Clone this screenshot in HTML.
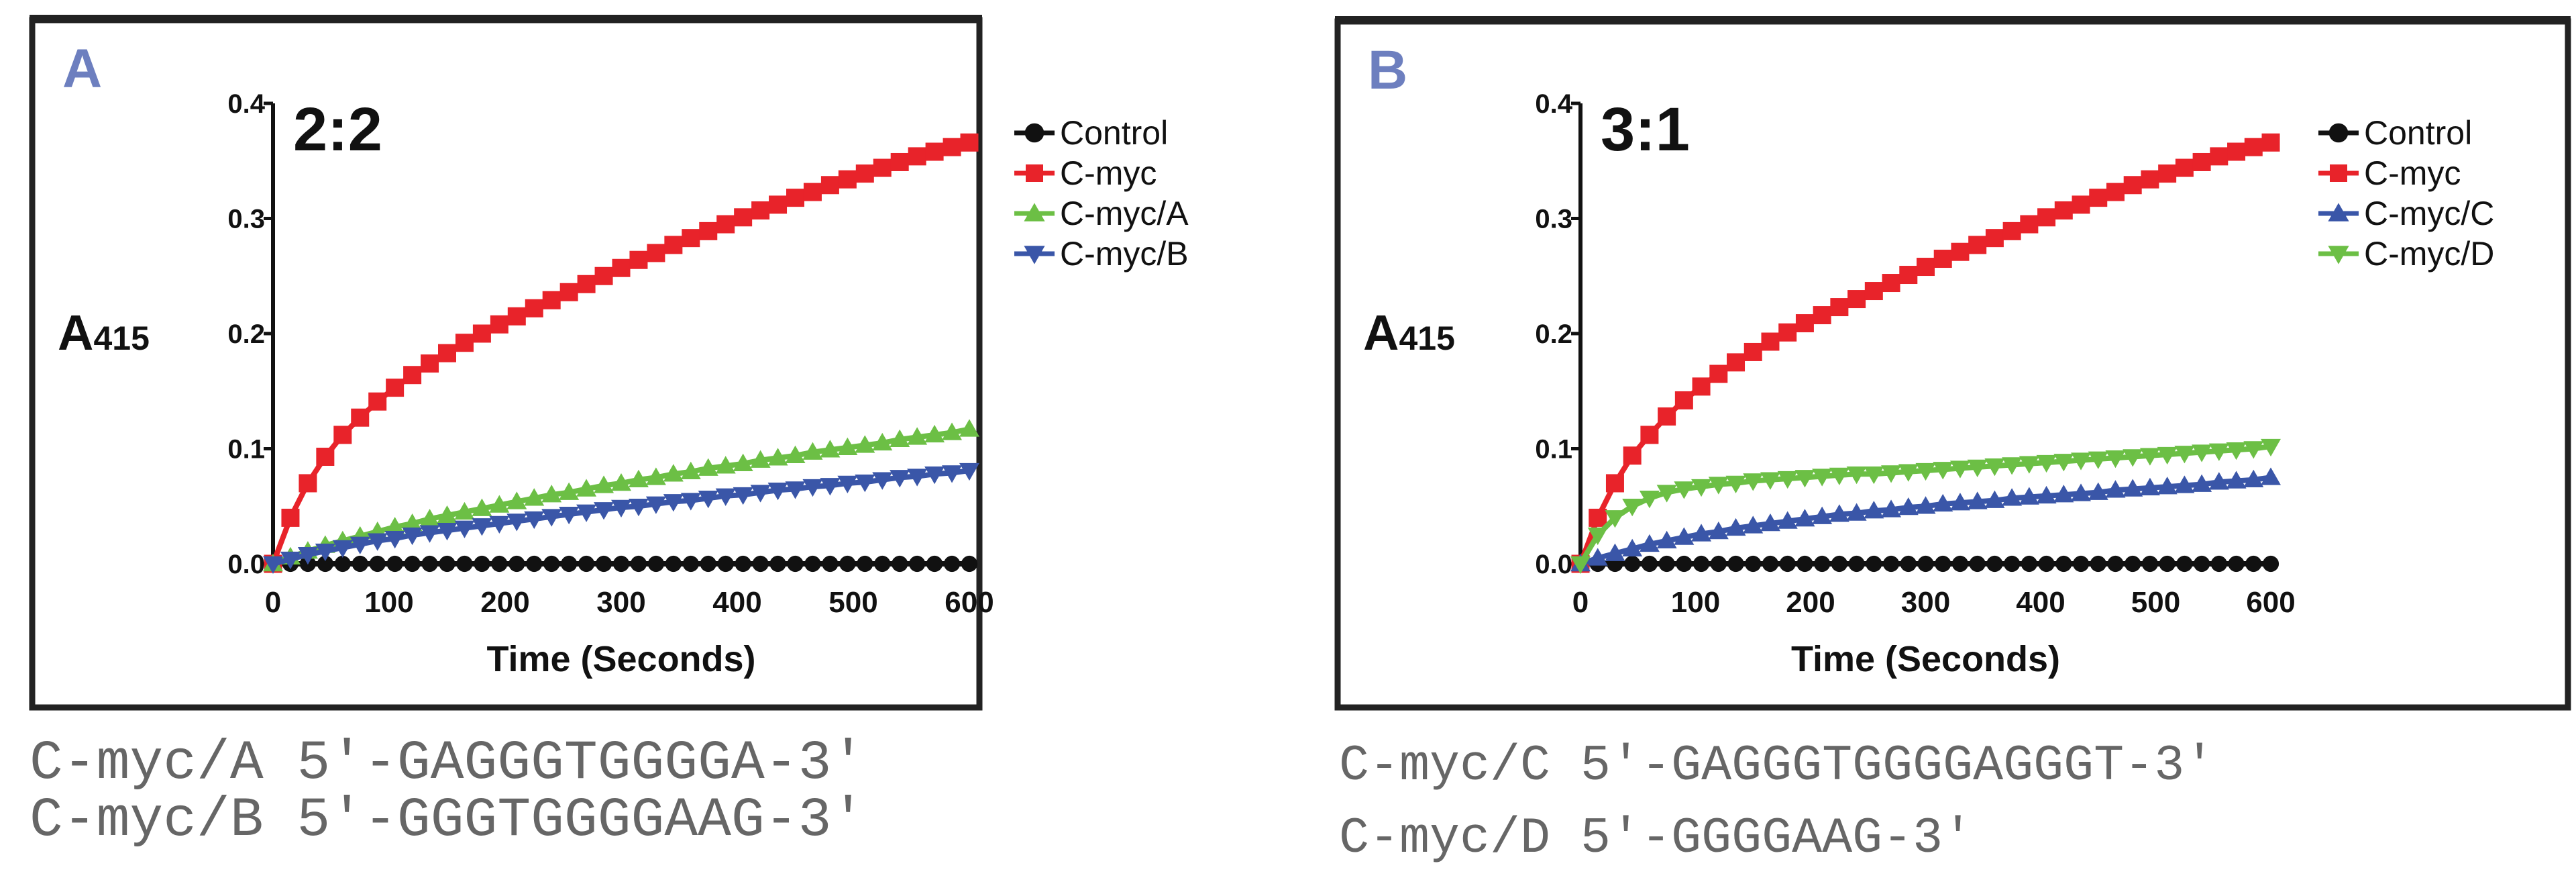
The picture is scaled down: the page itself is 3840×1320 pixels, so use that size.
<!DOCTYPE html>
<html><head><meta charset="utf-8"><style>
html,body{margin:0;padding:0;background:#fff;width:3840px;height:1320px;overflow:hidden}
svg{display:block}
.t{font-family:"Liberation Sans Narrow","Liberation Sans",sans-serif;font-weight:bold;fill:#111}
.leg{font-family:"Liberation Sans Narrow","Liberation Sans",sans-serif;fill:#111}
.seq{font-family:"Liberation Mono",monospace;fill:#666;font-size:83px}
.seqb{font-size:75px}
</style></head><body>
<svg id="chart" width="3840" height="1320" viewBox="0 0 3840 1320" xmlns="http://www.w3.org/2000/svg">
<text class="seq" x="44" y="1159">C-myc/A 5′-GAGGGTGGGGA-3′</text>
<text class="seq" x="44" y="1244">C-myc/B 5′-GGGTGGGGAAG-3′</text>
<text class="seq seqb" x="1996" y="1161">C-myc/C 5′-GAGGGTGGGGAGGGT-3′</text>
<text class="seq seqb" x="1996" y="1269">C-myc/D 5′-GGGGAAG-3′</text>
</svg>
<script>
const times=[0,15,30,45,60,75,90,105,120,135,150,165,180,195,210,225,240,255,270,285,300,315,330,345,360,375,390,405,420,435,450,465,480,495,510,525,540,555,570,585,600];
const xTicks=[0,100,200,300,400,500,600];
const yTicks=[0.0,0.1,0.2,0.3,0.4];
const yTickLabels=["0.0","0.1","0.2","0.3","0.4"];
const controlVals=[0,0,0,0,0,0,0,0,0,0,0,0,0,0,0,0,0,0,0,0,0,0,0,0,0,0,0,0,0,0,0,0,0,0,0,0,0,0,0,0,0];
const cmycA=[0,0.04,0.07,0.093,0.112,0.127,0.141,0.153,0.164,0.174,0.183,0.192,0.2,0.208,0.215,0.222,0.229,0.236,0.243,0.25,0.257,0.264,0.27,0.277,0.283,0.289,0.295,0.301,0.307,0.312,0.318,0.323,0.329,0.334,0.339,0.344,0.349,0.354,0.358,0.362,0.366];
const mycA=[0,0.006,0.011,0.016,0.02,0.024,0.028,0.032,0.035,0.039,0.042,0.045,0.048,0.051,0.054,0.057,0.06,0.062,0.065,0.068,0.07,0.073,0.075,0.078,0.08,0.083,0.085,0.087,0.09,0.092,0.094,0.097,0.099,0.101,0.103,0.105,0.108,0.11,0.112,0.114,0.117];
const mycB=[0,0.004,0.008,0.011,0.014,0.017,0.02,0.022,0.025,0.027,0.029,0.031,0.033,0.035,0.037,0.039,0.041,0.043,0.045,0.047,0.049,0.05,0.052,0.054,0.055,0.057,0.059,0.06,0.062,0.064,0.065,0.067,0.068,0.07,0.071,0.073,0.075,0.076,0.078,0.079,0.081];
const cmycB=[0,0.04,0.07,0.094,0.112,0.128,0.142,0.154,0.165,0.175,0.184,0.193,0.201,0.209,0.216,0.223,0.23,0.237,0.244,0.251,0.258,0.265,0.271,0.277,0.283,0.289,0.295,0.301,0.307,0.312,0.318,0.323,0.329,0.334,0.339,0.344,0.349,0.354,0.358,0.362,0.366];
const mycC=[0,0.005,0.009,0.013,0.017,0.02,0.023,0.026,0.028,0.031,0.033,0.035,0.037,0.039,0.041,0.043,0.044,0.046,0.047,0.049,0.05,0.052,0.053,0.054,0.055,0.057,0.058,0.059,0.06,0.061,0.062,0.064,0.065,0.066,0.067,0.068,0.069,0.071,0.072,0.073,0.075];
const mycD=[0,0.025,0.04,0.05,0.057,0.062,0.065,0.067,0.069,0.07,0.072,0.073,0.074,0.075,0.076,0.077,0.078,0.078,0.079,0.08,0.081,0.082,0.083,0.084,0.085,0.086,0.087,0.088,0.089,0.09,0.091,0.092,0.093,0.094,0.095,0.096,0.097,0.098,0.099,0.1,0.102];
const NS="http://www.w3.org/2000/svg";
const svg=document.getElementById('chart');
function mk(tag,attrs,parent){const e=document.createElementNS(NS,tag);for(const k in attrs)e.setAttribute(k,attrs[k]);(parent||svg).appendChild(e);return e;}
function marker(g,shape,x,y,color,s){
  let e;
  if(shape==='circle')e=mk('circle',{cx:x,cy:y,r:s*0.55,fill:color},g);
  else if(shape==='square')e=mk('rect',{x:x-s/2,y:y-s/2,width:s,height:s,fill:color},g);
  else if(shape==='up')e=mk('polygon',{points:`${x},${y-s*0.6} ${x-s*0.6},${y+s*0.45} ${x+s*0.6},${y+s*0.45}`,fill:color},g);
  else e=mk('polygon',{points:`${x},${y+s*0.6} ${x-s*0.6},${y-s*0.45} ${x+s*0.6},${y-s*0.45}`,fill:color},g);
  return e;
}
function panel(p){
  const g=mk('g',{});
  
  
  const box=mk('rect',{x:p.bx,y:p.by,width:p.bw,height:p.bh,fill:'none',stroke:'#222','stroke-width':9},g);
  
  
  mk('rect',{x:p.bx-4,y:p.by-8,width:p.bw+8,height:10,fill:'#222'},g);
  const lab=mk('text',{x:p.bx+45,y:p.by+100,'font-family':'"Liberation Sans Narrow","Liberation Sans",sans-serif','font-weight':'bold','font-size':82,fill:'#6d7fbf'},g);
  lab.textContent=p.letter;
  
  
  const X=t=>p.x0+(t/600)*(p.x1-p.x0);
  const Y=v=>p.y0-(v/0.4)*(p.y0-p.y1);
  const ax=mk('line',{x1:X(0),y1:Y(0)+4,x2:X(0),y2:Y(0.4),stroke:'#111','stroke-width':6},g);
  
  
  yTicks.forEach((v,i)=>{
    mk('line',{x1:X(0)-14,y1:Y(v),x2:X(0),y2:Y(v),stroke:'#111','stroke-width':5},g);
    const t=mk('text',{class:'t',x:X(0)-12,y:Y(v)+14,'font-size':40,'text-anchor':'end'},g);
    t.textContent=yTickLabels[i];
    
    
  });
  xTicks.forEach(v=>{
    const t=mk('text',{class:'t',x:X(v),y:Y(0)+72,'font-size':44,'text-anchor':'middle'},g);
    t.textContent=v;
    
    
  });
  const xt=mk('text',{class:'t',x:(X(0)+X(600))/2,y:Y(0)+160,'font-size':54,'text-anchor':'middle'},g);
  xt.textContent='Time (Seconds)';
  
  
  const yt=mk('text',{class:'t',x:p.bx+38,y:Y(0.2)+24,'font-size':74},g);
  yt.textContent='A';
  const sub=mk('tspan',{'font-size':50},yt);sub.textContent='415';
  
  
  const rt=mk('text',{class:'t',x:X(0)+30,y:Y(0.4)+70,'font-size':92},g);
  rt.textContent=p.ratio;
  
  
  p.series.forEach((s,si)=>{
    const sg=mk('g',{},g);
    
    
    const pts=times.map((t,i)=>X(t)+','+Y(s.vals[i])).join(' ');
    mk('polyline',{points:pts,fill:'none',stroke:s.color,'stroke-width':8},sg);
    times.forEach((t,i)=>{
      const m=marker(sg,s.shape,X(t),Y(s.vals[i]),s.color,s.shape==='square'?27:s.shape==='circle'?22:25);
      
      
    });
    const ly=p.ly0+si*60;
    const lg=mk('g',{},g);
    
    
    mk('line',{x1:p.lx,y1:ly,x2:p.lx+60,y2:ly,stroke:s.color,'stroke-width':7},lg);
    marker(lg,s.shape,p.lx+30,ly,s.color,26);
    const lt=mk('text',{class:'leg',x:p.lx+68,y:ly+17,'font-size':50},lg);
    lt.textContent=s.label;
  });
}
panel({name:'panel-a',letter:'A',ratio:'2:2',bx:48,by:30,bw:1412,bh:1024,x0:407,x1:1445,y0:840,y1:154,lx:1512,ly0:198,
  series:[{label:'Control',vals:controlVals,color:'#111',shape:'circle'},
          {label:'C-myc',vals:cmycA,color:'#e8232a',shape:'square'},
          {label:'C-myc/A',vals:mycA,color:'#6cbf45',shape:'up'},
          {label:'C-myc/B',vals:mycB,color:'#3a56a8',shape:'down'}]});
panel({name:'panel-b',letter:'B',ratio:'3:1',bx:1994,by:32,bw:1834,bh:1022,x0:2356,x1:3385,y0:840,y1:154,lx:3456,ly0:198,
  series:[{label:'Control',vals:controlVals,color:'#111',shape:'circle'},
          {label:'C-myc',vals:cmycB,color:'#e8232a',shape:'square'},
          {label:'C-myc/C',vals:mycC,color:'#3a56a8',shape:'up'},
          {label:'C-myc/D',vals:mycD,color:'#6cbf45',shape:'down'}]});
</script>
</body></html>
